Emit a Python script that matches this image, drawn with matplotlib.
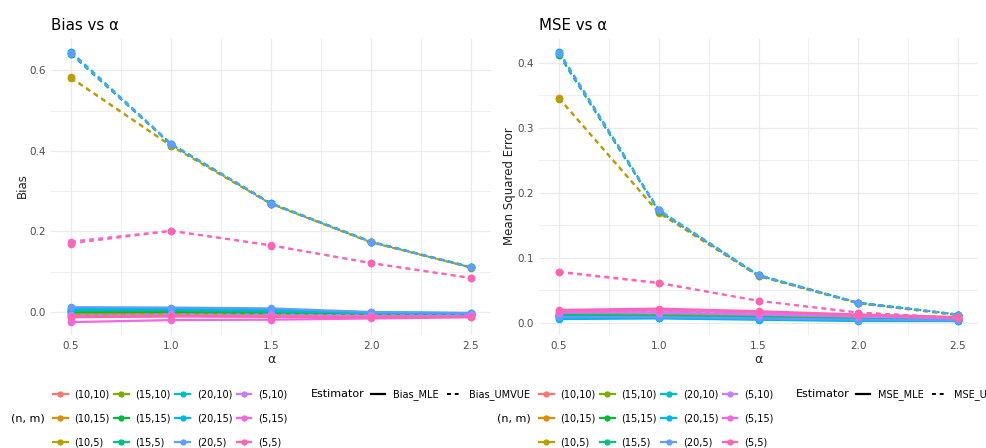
import numpy as np
import matplotlib.pyplot as plt
from matplotlib.lines import Line2D

# data
alpha = [0.5, 1.0, 1.5, 2.0, 2.5]
groups = ["(10,10)", "(10,15)", "(10,5)", "(15,10)", "(15,15)", "(15,5)",
          "(20,10)", "(20,15)", "(20,5)", "(5,10)", "(5,15)", "(5,5)"]
colors = ["#F8766D", "#DE8C00", "#B79F00", "#7CAE00", "#00BA38", "#00C08B",
          "#00BFC4", "#00B4F0", "#619CFF", "#C77CFF", "#F564E3", "#FF64B0"]

bias_mle = [
    [-0.010, -0.008, -0.008, -0.009, -0.009],
    [-0.005, -0.004, -0.005, -0.006, -0.007],
    [-0.003, 0.004, 0.001, -0.004, -0.006],
    [0.006, 0.007, 0.002, -0.003, -0.005],
    [0.000, 0.000, -0.002, -0.004, -0.005],
    [0.003, 0.004, 0.001, -0.003, -0.004],
    [0.006, 0.007, 0.004, -0.002, -0.003],
    [0.009, 0.008, 0.006, -0.001, -0.003],
    [0.012, 0.011, 0.009, 0.000, -0.002],
    [-0.012, -0.010, -0.010, -0.011, -0.010],
    [-0.025, -0.020, -0.019, -0.016, -0.013],
    [-0.013, -0.011, -0.012, -0.013, -0.012],
]
bias_umvue = [
    [-0.006, -0.004, -0.004, -0.006, -0.006],
    [0.582, 0.413, 0.268, 0.173, 0.111],
    [0.580, 0.412, 0.268, 0.173, 0.110],
    [0.004, 0.006, 0.003, -0.002, -0.004],
    [0.640, 0.416, 0.269, 0.174, 0.111],
    [0.641, 0.416, 0.269, 0.174, 0.111],
    [0.645, 0.417, 0.270, 0.174, 0.111],
    [0.646, 0.418, 0.270, 0.175, 0.112],
    [0.643, 0.417, 0.269, 0.174, 0.111],
    [-0.008, -0.006, -0.006, -0.008, -0.008],
    [0.175, 0.202, 0.166, 0.122, 0.085],
    [0.170, 0.201, 0.165, 0.121, 0.084],
]
mse_mle = [
    [0.012, 0.012, 0.010, 0.008, 0.006],
    [0.010, 0.010, 0.008, 0.006, 0.005],
    [0.014, 0.013, 0.011, 0.008, 0.006],
    [0.011, 0.010, 0.008, 0.006, 0.004],
    [0.009, 0.009, 0.007, 0.005, 0.004],
    [0.012, 0.011, 0.009, 0.006, 0.005],
    [0.008, 0.008, 0.006, 0.004, 0.003],
    [0.006, 0.007, 0.005, 0.003, 0.003],
    [0.009, 0.009, 0.007, 0.005, 0.004],
    [0.016, 0.016, 0.013, 0.010, 0.007],
    [0.018, 0.019, 0.016, 0.012, 0.008],
    [0.020, 0.022, 0.018, 0.013, 0.009],
]
mse_umvue = [
    [0.013, 0.013, 0.011, 0.009, 0.007],
    [0.346, 0.170, 0.072, 0.030, 0.012],
    [0.345, 0.169, 0.072, 0.030, 0.012],
    [0.012, 0.011, 0.009, 0.007, 0.005],
    [0.412, 0.172, 0.073, 0.031, 0.013],
    [0.413, 0.172, 0.073, 0.031, 0.013],
    [0.416, 0.173, 0.073, 0.031, 0.013],
    [0.417, 0.174, 0.074, 0.031, 0.013],
    [0.415, 0.173, 0.073, 0.031, 0.013],
    [0.017, 0.017, 0.014, 0.011, 0.008],
    [0.079, 0.062, 0.034, 0.016, 0.008],
    [0.078, 0.061, 0.034, 0.016, 0.008],
]

W, H = 986, 448
fig = plt.figure(figsize=(W / 100, H / 100), dpi=100)
DASH = (2.5, 2.2)
GRID = "#EBEBEB"


def px_axes(x0, y0, x1, y1):
    return fig.add_axes([x0 / W, 1 - y1 / H, (x1 - x0) / W, (y1 - y0) / H])


def panel(ax, mle, umvue, ylim, yticks, yminor, title, ylabel, lx, tx):
    for i in range(len(groups)):
        ax.plot(alpha, mle[i], color=colors[i], lw=1.6, marker="o", ms=4.5, zorder=3)
        ax.plot(alpha, umvue[i], color=colors[i], lw=1.4, dashes=DASH,
                marker="o", ms=4.5, zorder=3)
    ax.set_xlim(0.4, 2.6)
    ax.set_ylim(*ylim)
    ax.set_xticks(alpha)
    ax.set_xticklabels(["0.5", "1.0", "1.5", "2.0", "2.5"])
    ax.set_xticks([0.75, 1.25, 1.75, 2.25], minor=True)
    ax.set_yticks(yticks)
    ax.set_yticks(yminor, minor=True)
    ax.grid(True, which="major", color=GRID, lw=0.9)
    ax.grid(True, which="minor", color=GRID, lw=0.6)
    ax.set_axisbelow(True)
    for s in ax.spines.values():
        s.set_visible(False)
    ax.tick_params(which="both", length=0, labelsize=7.5, labelcolor="#4D4D4D", pad=4)
    ax.set_xlabel("α", fontsize=9, color="#222222", labelpad=2)
    fig.text(lx / W, 1 - 186 / H, ylabel, rotation=90, ha="center", va="center",
             fontsize=8.5, color="#222222")
    fig.text(tx / W, 1 - 25 / H, title, ha="left", va="center", fontsize=10.8)


ax1 = px_axes(51, 38, 491, 335)
panel(ax1, bias_mle, bias_umvue, (-0.057, 0.68), [0.0, 0.2, 0.4, 0.6],
      [0.1, 0.3, 0.5], "Bias vs α", "Bias", 22, 51)
ax2 = px_axes(539, 38, 978, 335)
panel(ax2, mse_mle, mse_umvue, (-0.0185, 0.438), [0.0, 0.1, 0.2, 0.3, 0.4],
      [0.05, 0.15, 0.25, 0.35], "MSE vs α", "Mean Squared Error", 510, 539)


def legends(x0, est_x, est_names):
    handles = [Line2D([], [], color=c, lw=1.6, marker="o", ms=3.5) for c in colors]
    fig.legend(handles, groups, ncol=4, loc="upper left",
               bbox_to_anchor=(x0 / W, 1 - 389 / H), frameon=False, fontsize=7,
               handlelength=1.5, handletextpad=0.7, columnspacing=0.45,
               labelspacing=1.45, borderpad=0, borderaxespad=0)
    fig.text((x0 - 8) / W, 1 - 418 / H, "(n, m)", ha="right", va="center", fontsize=8)
    fig.text(est_x / W, 1 - 394 / H, "Estimator", ha="left", va="center", fontsize=8)
    eh = [Line2D([], [], color="black", lw=1.6),
          Line2D([], [], color="black", lw=1.4, dashes=(2, 2))]
    fig.legend(eh, est_names, ncol=2, loc="upper left",
               bbox_to_anchor=((est_x + 60) / W, 1 - 389 / H), frameon=False,
               fontsize=7, handlelength=1.45, handletextpad=0.8, columnspacing=0.9,
               borderpad=0, borderaxespad=0)


legends(53, 311, ["Bias_MLE", "Bias_UMVUE"])
legends(539, 796, ["MSE_MLE", "MSE_UMVUE"])

fig.savefig("out.png", dpi=100, facecolor="white")
